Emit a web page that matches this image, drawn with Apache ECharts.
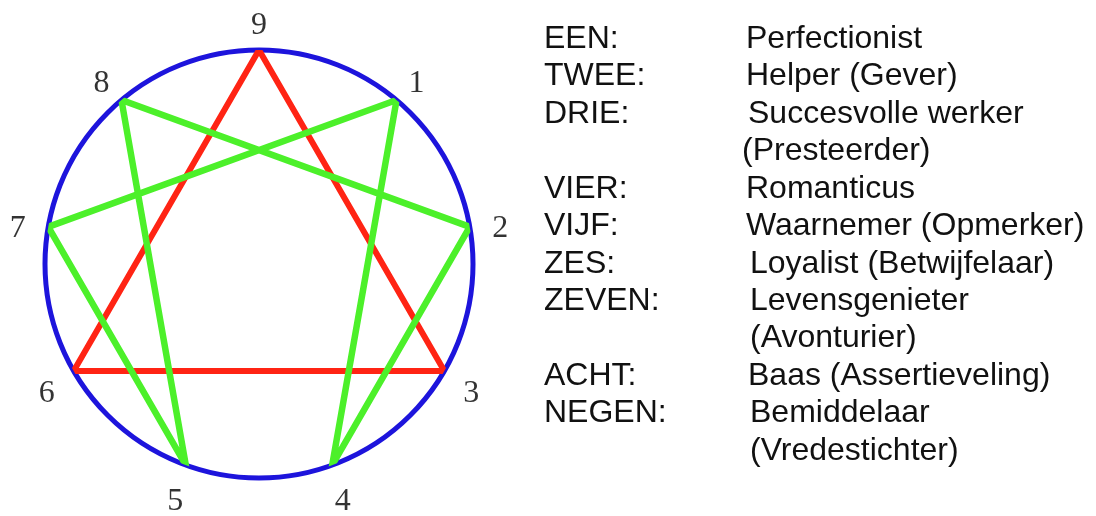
<!DOCTYPE html>
<html>
<head>
<meta charset="utf-8">
<script src="https://cdn.jsdelivr.net/npm/echarts@6/dist/echarts.min.js"></script>
<style>
  html, body { margin: 0; padding: 0; background: #fff; }
  #chart { width: 1096px; height: 516px; }
</style>
</head>
<body>
<div id="chart"></div>
<script>
// enneagram points: type number and its angle on the circle (degrees, clockwise from top)
var types = [1, 2, 3, 4, 5, 6, 7, 8, 9];
var angles = [40, 80, 120, 160, 200, 240, 280, 320, 0];

// connecting figures
var triangle = [9, 3, 6, 9];
var hexad = [1, 4, 2, 8, 5, 7, 1];

// legend text on the right
var typeNames = ["EEN:", "TWEE:", "DRIE:", "", "VIER:", "VIJF:", "ZES:", "ZEVEN:", "", "ACHT:", "NEGEN:", ""];
var typeDescs = ["Perfectionist", "Helper (Gever)", "Succesvolle werker", "(Presteerder)", "Romanticus",
    "Waarnemer (Opmerker)", "Loyalist (Betwijfelaar)", "Levensgenieter", "(Avonturier)",
    "Baas (Assertieveling)", "Bemiddelaar", "(Vredestichter)"];

// layout of the text column
var descX = [746, 746, 748, 742, 746, 746, 750, 750, 750, 748, 750, 750];
var textFont = "32px 'Liberation Sans', Arial, sans-serif";

function pointOf(t, r) {
    return [r, angles[types.indexOf(t)]];
}

var graphic = [];
for (var i = 0; i < typeDescs.length; i++) {
    var y = 39 + i * 37.45;
    if (typeNames[i]) {
        graphic.push({
            type: "text", x: 544, y: y,
            style: { text: typeNames[i], font: textFont, fill: "#111", verticalAlign: "middle" }
        });
    }
    graphic.push({
        type: "text", x: descX[i], y: y,
        style: { text: typeDescs[i], font: textFont, fill: "#111", verticalAlign: "middle" }
    });
}

var chart = echarts.init(document.getElementById("chart"));
chart.setOption({
    animation: false,
    backgroundColor: "#fff",
    polar: { center: [259, 264], radius: 214 },
    angleAxis: {
        type: "value", min: 0, max: 360, startAngle: 90, clockwise: true,
        axisLine: { lineStyle: { color: "#1d14dc", width: 5 } },
        axisTick: { show: false }, axisLabel: { show: false }, splitLine: { show: false }
    },
    radiusAxis: {
        type: "value", min: 0, max: 1,
        axisLine: { show: false }, axisTick: { show: false }, axisLabel: { show: false }, splitLine: { show: false }
    },
    graphic: graphic,
    series: [
        {
            type: "line", coordinateSystem: "polar", clip: false, symbol: "none",
            lineStyle: { color: "#ff2414", width: 6, join: "miter" },
            data: triangle.map(function (t) { return pointOf(t, 1); })
        },
        {
            type: "line", coordinateSystem: "polar", clip: false, symbol: "none",
            lineStyle: { color: "#4cf02a", width: 6.5, join: "miter" },
            data: hexad.map(function (t) { return pointOf(t, 1); })
        },
        {
            type: "scatter", coordinateSystem: "polar", clip: false, symbolSize: 0,
            label: {
                show: true, position: "inside", offset: [0, 7],
                formatter: function (p) { return String(p.data[2]); },
                fontFamily: "Liberation Serif", fontSize: 32, color: "#000"
            },
            data: types.map(function (t) { return pointOf(t, 1.145).concat([t]); })
        }
    ]
});
</script>
</body>
</html>
